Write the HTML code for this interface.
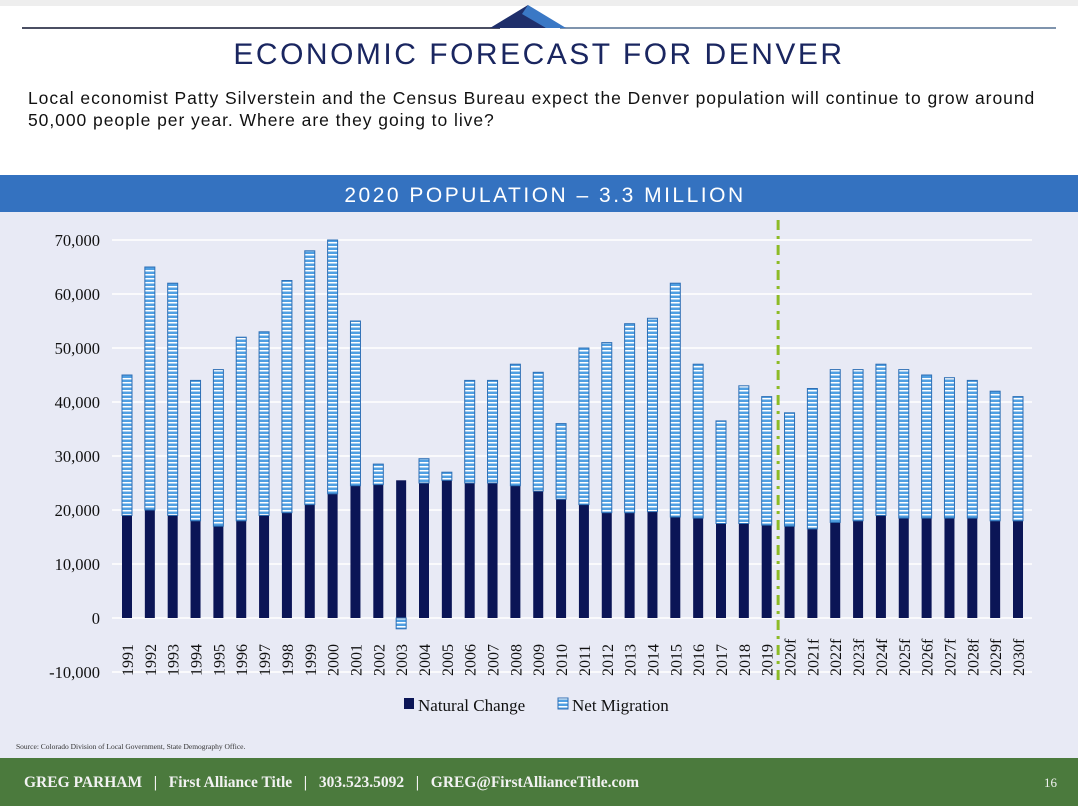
<!DOCTYPE html>
<html><head><meta charset="utf-8"><style>
body{margin:0;width:1078px;height:806px;overflow:hidden;background:#fff;font-family:"Liberation Sans",sans-serif;position:relative}
.abs{position:absolute}
</style></head><body>
<svg class="abs" style="left:0;top:0" width="1078" height="806">
  <defs>
    <pattern id="stripes" width="6" height="4" patternUnits="userSpaceOnUse">
      <rect width="6" height="4" fill="#4f9fe2"/>
      <rect y="2" width="6" height="1.5" fill="#ffffff"/>
    </pattern>
  </defs>
  <rect x="0" y="0" width="1078" height="6" fill="#eeeeee"/>
  <line x1="22" y1="28" x2="500" y2="28" stroke="#4b4f63" stroke-width="2"/>
  <line x1="560" y1="28" x2="1056" y2="28" stroke="#7f94ad" stroke-width="2"/>
  <polygon points="490,28 528,5 546,28" fill="#1f2f6b"/>
  <polygon points="528,5 566,28 546,28 522,14" fill="#3a78c5"/>
  <rect x="0" y="175" width="1078" height="37" fill="#3472c0"/>
  <text x="545" y="202" text-anchor="middle" font-size="21" fill="#fff" letter-spacing="2.5" font-family="Liberation Sans">2020 POPULATION – 3.3 MILLION</text>
  <rect x="0" y="212" width="1078" height="546" fill="#e8eaf5"/>
  <g id="chart"></g>
  <text x="16" y="749" font-size="7.5" fill="#333" font-family="Liberation Serif">Source: Colorado Division of Local Government, State Demography Office.</text>
  <rect x="0" y="758" width="1078" height="48" fill="#4b7a3d"/>
  <text x="24" y="787" font-size="15.5" font-weight="bold" fill="#f2f2f2" font-family="Liberation Serif" style="white-space:pre">GREG PARHAM   |   First Alliance Title   |   303.523.5092   |   GREG@FirstAllianceTitle.com</text>
  <text x="1057" y="787" font-size="13" fill="#f2f2f2" text-anchor="end" font-family="Liberation Serif">16</text>
</svg>
<div class="abs" style="left:0;top:38px;width:1078px;text-align:center;font-size:30px;letter-spacing:2.5px;color:#1a2660">ECONOMIC FORECAST FOR DENVER</div>
<div class="abs" style="left:28px;top:87px;width:1040px;font-size:17.5px;line-height:22px;letter-spacing:0.95px;white-space:nowrap;color:#111">Local economist Patty Silverstein and the Census Bureau expect the Denver population will continue to grow around<br>50,000 people per year. Where are they going to live?</div>
<script>
const categories=["1991","1992","1993","1994","1995","1996","1997","1998","1999","2000","2001","2002","2003","2004","2005","2006","2007","2008","2009","2010","2011","2012","2013","2014","2015","2016","2017","2018","2019","2020f","2021f","2022f","2023f","2024f","2025f","2026f","2027f","2028f","2029f","2030f"];
const naturalChange=[19000,20000,19000,18000,17000,18000,19000,19500,21000,23000,24500,24700,25500,25000,25500,25000,25000,24500,23500,22000,21000,19500,19500,19700,18700,18500,17500,17500,17200,17000,16500,17700,18000,19000,18500,18500,18500,18500,18000,18000];
const netMigration=[26000,45000,43000,26000,29000,34000,34000,43000,47000,47000,30500,3800,-2000,4500,1500,19000,19000,22500,22000,14000,29000,31500,35000,35800,43300,28500,19000,25500,23800,21000,26000,28300,28000,28000,27500,26500,26000,25500,24000,23000];
const yTicks=[-10000,0,10000,20000,30000,40000,50000,60000,70000];
const forecastStart="2020f";
const NS="http://www.w3.org/2000/svg";
const g=document.getElementById('chart');
const y0=618,pxPer=54/10000,yMax=70000;
function yS(v){return y0-v*pxPer;}
function xS(i){return 127+i*(1018-127)/(categories.length-1);}
function mk(t,a){const e=document.createElementNS(NS,t);for(const k in a)e.setAttribute(k,a[k]);g.appendChild(e);return e;}
yTicks.forEach(t=>{
  const l=mk('line',{x1:112,x2:1032,y1:yS(t),y2:yS(t),stroke:'#ffffff','stroke-width':1.5});
  
  
  const tx=mk('text',{x:100,y:yS(t)+6,'text-anchor':'end','font-size':16.5,fill:'#111','font-family':'Liberation Serif'});
  tx.textContent=t.toLocaleString('en-US');
  
  
});
const bw=10;
categories.forEach((c,i)=>{
  const x=xS(i)-bw/2;
  const n=naturalChange[i],m=netMigration[i];
  const r=mk('rect',{x:x,y:yS(n),width:bw,height:n*pxPer,fill:'#0b1556'});
  
  
  let top,h;
  if(m>=0){top=Math.max(yS(n+m),yS(yMax));h=yS(n)-top;}
  else{top=y0;h=-m*pxPer;}
  const r2=mk('rect',{x:x,y:top,width:bw,height:h,fill:'url(#stripes)',stroke:'#2e6fb5','stroke-width':1});
  
  
  const tx=mk('text',{transform:`translate(${xS(i)+6},${y0+58}) rotate(-90)`,'font-size':16,fill:'#111','font-family':'Liberation Serif'});
  tx.textContent=c;
  
  
});
const fi=categories.indexOf(forecastStart);
const fx=(xS(fi)+xS(fi-1))/2;
const fl=mk('line',{x1:fx,x2:fx,y1:220,y2:682,stroke:'#8dbb26','stroke-width':3,'stroke-dasharray':'10,6,3,6'});


const l1=mk('rect',{x:404,y:698,width:10,height:11,fill:'#0b1556'});


const t1=mk('text',{x:418,y:711,'font-size':17,fill:'#111','font-family':'Liberation Serif'});t1.textContent='Natural Change';


const l2=mk('rect',{x:558,y:698,width:10,height:11,fill:'url(#stripes)',stroke:'#2e6fb5','stroke-width':1});


const t2=mk('text',{x:572,y:711,'font-size':17,fill:'#111','font-family':'Liberation Serif'});t2.textContent='Net Migration';


</script>
</body></html>
